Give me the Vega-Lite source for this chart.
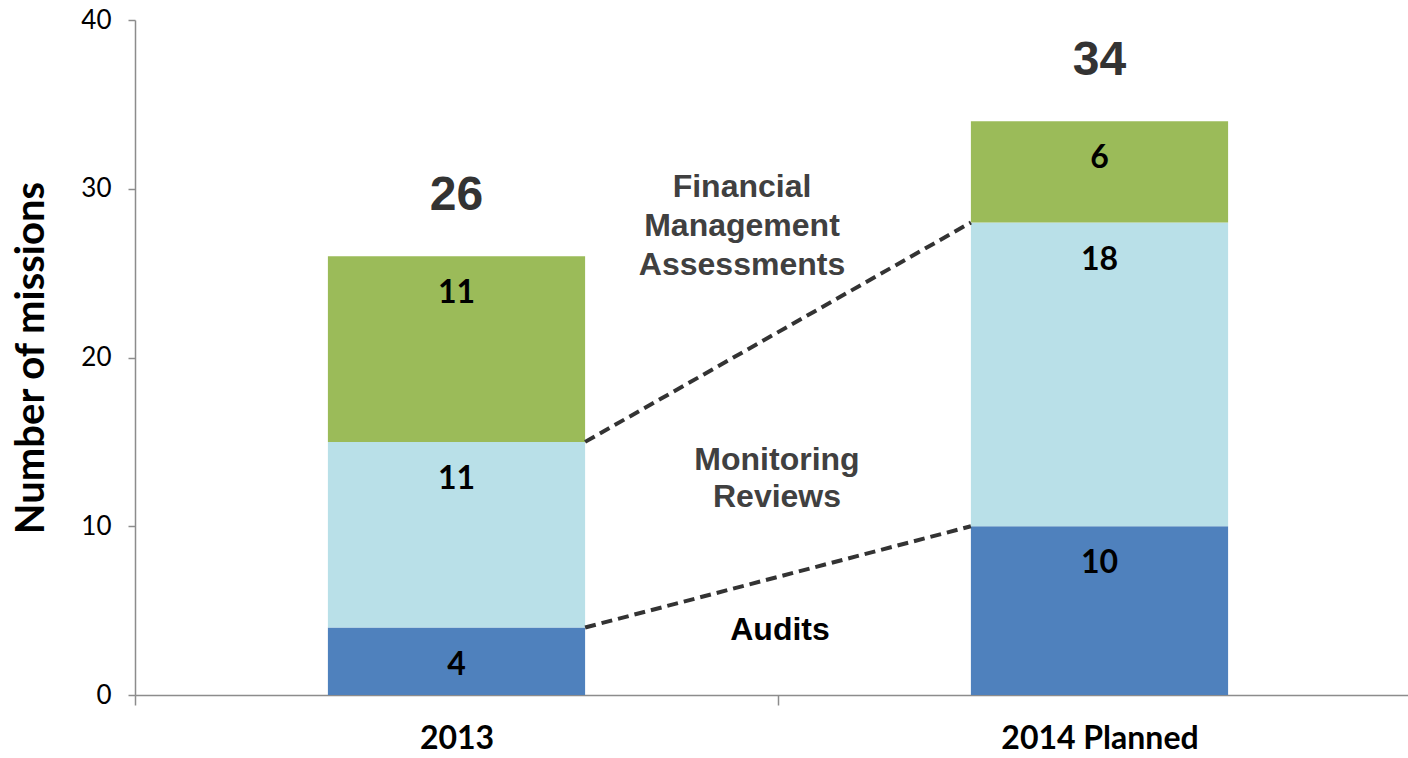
{
  "$schema": "https://vega.github.io/schema/vega-lite/v6.json",
  "width": 1273,
  "height": 675,
  "autosize": {"type": "none"},
  "padding": {"left": 135, "top": 20, "right": 0, "bottom": 63},
  "background": "white",
  "config": {
    "view": {"stroke": null},
    "axis": {"domainColor": "#8c8c8c", "tickColor": "#8c8c8c", "domainWidth": 1.5, "tickWidth": 1.5, "grid": false}
  },
  "data": {
    "values": [
      {"cat": "2013", "segment": "Audits", "ord": 1, "value": 4},
      {"cat": "2013", "segment": "Monitoring Reviews", "ord": 2, "value": 11},
      {"cat": "2013", "segment": "Financial Management Assessments", "ord": 3, "value": 11},
      {"cat": "2014 Planned", "segment": "Audits", "ord": 1, "value": 10},
      {"cat": "2014 Planned", "segment": "Monitoring Reviews", "ord": 2, "value": 18},
      {"cat": "2014 Planned", "segment": "Financial Management Assessments", "ord": 3, "value": 6}
    ]
  },
  "encoding": {
    "x": {
      "field": "cat", "type": "nominal", "sort": ["2013", "2014 Planned"],
      "scale": {"paddingInner": 0, "paddingOuter": 0, "range": [0, 1286]},
      "axis": {"title": null, "labelAngle": 0, "labelLimit": 600, "tickBand": "extent", "tickSize": 10, "labelFont": "Lato", "labelFontWeight": "bold", "labelFontSize": 32, "labelColor": "black", "labelPadding": 18}
    }
  },
  "layer": [
    {
      "transform": [{"stack": "value", "groupby": ["cat"], "sort": [{"field": "ord"}], "as": ["y0", "y1"]}],
      "mark": {"type": "bar", "width": {"band": 0.4}},
      "encoding": {
        "y": {"field": "y0", "type": "quantitative", "scale": {"domain": [0, 40]},
              "axis": {"title": "Number of missions", "values": [0, 10, 20, 30, 40], "tickSize": 7, "labelFont": "Lato", "labelFontSize": 26, "labelColor": "black", "labelPadding": 17, "titleFont": "Lato", "titleFontWeight": "bold", "titleFontSize": 40, "titleColor": "black", "titlePadding": 29}},
        "y2": {"field": "y1"},
        "color": {"field": "segment", "type": "nominal", "legend": null,
                  "scale": {"domain": ["Audits", "Monitoring Reviews", "Financial Management Assessments"], "range": ["#4F81BD", "#B9E0E8", "#9BBB59"]}}
      }
    },
    {
      "transform": [{"stack": "value", "groupby": ["cat"], "sort": [{"field": "ord"}], "as": ["y0", "y1"]}],
      "mark": {"type": "text", "font": "Lato", "fontWeight": "bold", "fontSize": 32, "color": "black", "baseline": "middle", "dy": 37},
      "encoding": {
        "y": {"field": "y1", "type": "quantitative"},
        "text": {"field": "value", "type": "quantitative"}
      }
    },
    {
      "transform": [{"aggregate": [{"op": "sum", "field": "value", "as": "total"}], "groupby": ["cat"]}],
      "mark": {"type": "text", "font": "Liberation Sans", "fontWeight": "bold", "fontSize": 48, "color": "#333333", "baseline": "middle", "dy": -60},
      "encoding": {
        "y": {"field": "total", "type": "quantitative"},
        "text": {"field": "total", "type": "quantitative"}
      }
    },
    {
      "data": {"values": [
        {"from": "2013", "to": "2014 Planned", "start": 15, "end": 28},
        {"from": "2013", "to": "2014 Planned", "start": 4, "end": 10}
      ]},
      "mark": {"type": "rule", "color": "#333333", "strokeWidth": 4, "strokeDash": [11, 6]},
      "encoding": {
        "x": {"field": "from", "type": "nominal", "bandPosition": 0.7},
        "x2": {"field": "to", "bandPosition": 0.3},
        "y": {"field": "start", "type": "quantitative"},
        "y2": {"field": "end"}
      }
    },
    {
      "data": {"values": [{"name": ["Financial", "Management", "Assessments"]}]},
      "mark": {"type": "text", "font": "Liberation Sans", "fontWeight": "bold", "fontSize": 32, "color": "#404040", "baseline": "middle", "lineHeight": 39, "dx": -36},
      "encoding": {
        "x": {"datum": "2013", "type": "nominal", "bandPosition": 1},
        "y": {"datum": 30.1, "type": "quantitative"},
        "text": {"field": "name"}
      }
    },
    {
      "data": {"values": [{"name": ["Monitoring", "Reviews"]}]},
      "mark": {"type": "text", "font": "Liberation Sans", "fontWeight": "bold", "fontSize": 32, "color": "#404040", "baseline": "middle", "lineHeight": 37, "dx": -1},
      "encoding": {
        "x": {"datum": "2013", "type": "nominal", "bandPosition": 1},
        "y": {"datum": 13.93, "type": "quantitative"},
        "text": {"field": "name"}
      }
    },
    {
      "data": {"values": [{"name": "Audits"}]},
      "mark": {"type": "text", "font": "Liberation Sans", "fontWeight": "bold", "fontSize": 32, "color": "black", "baseline": "middle", "dx": 2},
      "encoding": {
        "x": {"datum": "2013", "type": "nominal", "bandPosition": 1},
        "y": {"datum": 3.85, "type": "quantitative"},
        "text": {"field": "name"}
      }
    }
  ]
}
